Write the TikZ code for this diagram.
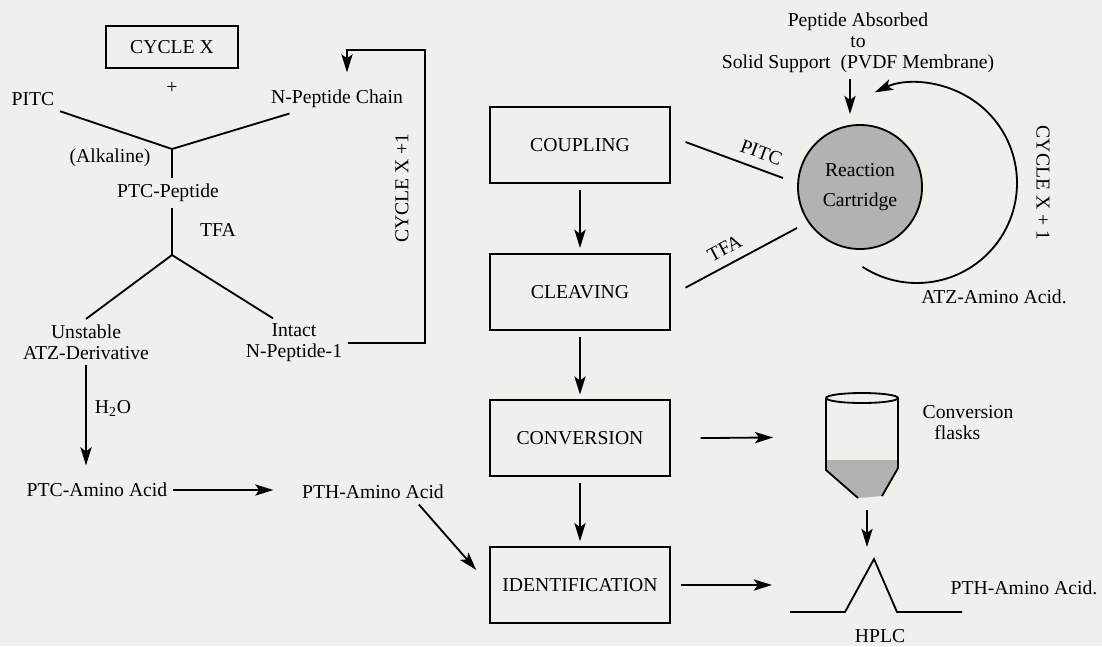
\documentclass[tikz,border=0pt]{standalone}
\usepackage{fontspec}
\setmainfont{Liberation Serif}
\usepackage{xcolor}
\usetikzlibrary{arrows.meta,positioning,calc}
\definecolor{paper}{RGB}{239,239,236}
\definecolor{stipple}{RGB}{178,178,178}

\begin{document}
\begin{tikzpicture}[x=0.025cm, y=0.025cm, line width=1.3pt,
    every node/.style={font=\fontsize{14}{15}\selectfont},
    arr/.style={-{Stealth[length=13pt, width=8pt, inset=3pt]}},
    stage/.style={draw, minimum width=4.48cm, minimum height=1.9cm}]
  % page
  \useasboundingbox (0,0) rectangle (1102,-646);
  \fill[paper] (0,0) rectangle (1102,-646);

  % Edman chemistry, left
  \node[draw, minimum width=3.28cm, minimum height=1.03cm] (cyclex) at (172,-47) {CYCLE X};
  \node (plus) at (172,-88) {+};
  \node (pitc) at (33,-99) {PITC};
  \node (nchain) at (337,-99) {N-Peptide Chain};
  \node (alk) at (110,-158) {(Alkaline)};
  \node (ptcpep) at (168,-193) {PTC-Peptide};
  \node (tfaL) at (218,-230) {TFA};
  \node[align=center] (unstable) at (86,-342) {Unstable\\ATZ-Derivative};
  \node[align=center] (intact) at (294,-343) {Intact\\N-Peptide-1};
  \node (h2o) at (113,-408) {H\textsubscript{2}O};
  \node (ptcaa) at (97,-490) {PTC-Amino Acid};
  \node (pthaa) at (373,-492) {PTH-Amino Acid};
  \node[rotate=90] (cycleL) at (402,-188) {CYCLE X +1};

  \coordinate (j1) at (172,-149);
  \coordinate (j2) at (172,-255);
  \coordinate (loopTR) at (425,-50);
  \draw (pitc.south east) -- (j1) -- (nchain.197);
  \draw (j1) -- (j1 |- ptcpep.north);
  \draw (j2 |- ptcpep.south) -- (j2);
  \draw (j2) -- (unstable.north);
  \draw (j2) -- ($(intact.north)+(-21,0)$);
  \draw[arr] (intact.east) -| (loopTR) -| ($(nchain.north)+(10,12)$);
  \draw[arr, shorten >=0.3cm] (unstable.south) -- (unstable.south |- ptcaa.north);
  \draw[arr, shorten >=0.58cm] (ptcaa.east) -- (ptcaa.east -| pthaa.west);

  % sequencer stages, middle
  \node[stage] (coupling) at (580,-145) {COUPLING};
  \node[stage, below=1.72cm of coupling] (cleaving) {CLEAVING};
  \node[stage, below=1.72cm of cleaving] (conversion) {CONVERSION};
  \node[stage, below=1.72cm of conversion] (ident) {IDENTIFICATION};
  \foreach \a/\b in {coupling/cleaving, cleaving/conversion, conversion/ident}
    \draw[arr, shorten <=0.15cm, shorten >=0.12cm] (\a) -- (\b);
  \draw[arr, shorten >=0.5cm] ($(pthaa.south)!0.6!(pthaa.south east)$) -- (ident.west);

  % reaction cartridge, right
  \node[draw, circle, fill=stipple, minimum size=3.1cm, align=center,
        font=\fontsize{14}{21}\selectfont] (cart) at (860,-187) {Reaction\\Cartridge};
  \node[align=center] (peptide) at (858,-43) {Peptide Absorbed\\to\\Solid Support~~(PVDF Membrane)};
  \draw[arr, shorten >=0.25cm] ($(peptide.south)+(-8,0)$) -- ($(cart.north)+(-10,0)$);

  \coordinate (pitcA) at ($(coupling.east)+(15,3)$);
  \coordinate (pitcB) at ($(cart)+(-77,9)$);
  \draw (pitcA) -- node[sloped, above=3pt, pos=0.72] (pitcR) {PITC} (pitcB);
  \coordinate (tfaA) at ($(cleaving.east)+(15,4)$);
  \coordinate (tfaB) at ($(cart)+(-63,-41)$);
  \draw (tfaA) -- node[sloped, above=3pt, pos=0.42] (tfaR) {TFA} (tfaB);

  \coordinate (loopc) at (917,-183);
  \draw[arr] (loopc) ++(-123:100) arc[start angle=-123, end angle=115, radius=100];
  \node[rotate=-90] (cycleR) at (1043,-183) {CYCLE X + 1};
  \node (atzaa) at (994,-297) {ATZ-Amino Acid.};

  % conversion flask
  \coordinate (flask) at (862,-398);
  \coordinate (flaskW) at (826,-437);
  \coordinate (flaskB) at (867,-498);
  \fill[stipple] (826,-460) -- (898,-460) -- (898,-468) -- (882,-496) -- (858,-498) -- (826,-470) -- cycle;
  \draw (flask) ellipse [x radius=36, y radius=5];
  \draw (826,-398) -- (826,-470) -- (858,-498);
  \draw (898,-398) -- (898,-468) -- (882,-496);
  \node[align=left] (convfl) at (968,-423) {Conversion\\ \hspace*{0.6em}flasks};
  \draw[arr, shorten <=0.75cm, shorten >=1.32cm] (conversion.east) -- (flaskW);

  % HPLC trace
  \coordinate (peak) at (874,-559);
  \coordinate (base0) at (790,-612);
  \draw[arr, shorten <=0.3cm, shorten >=0.3cm] (flaskB) -- (flaskB |- peak);
  \draw (base0) -- (845,-612) -- (peak) -- (897,-612) -- (962,-612);
  \node (hplc) at (880,-636) {HPLC};
  \node (pthaa2) at (1024,-588) {PTH-Amino Acid.};
  \draw[arr, shorten <=0.25cm, shorten >=0.45cm] (ident.east) -- (ident.east -| base0);
\end{tikzpicture}
\end{document}
